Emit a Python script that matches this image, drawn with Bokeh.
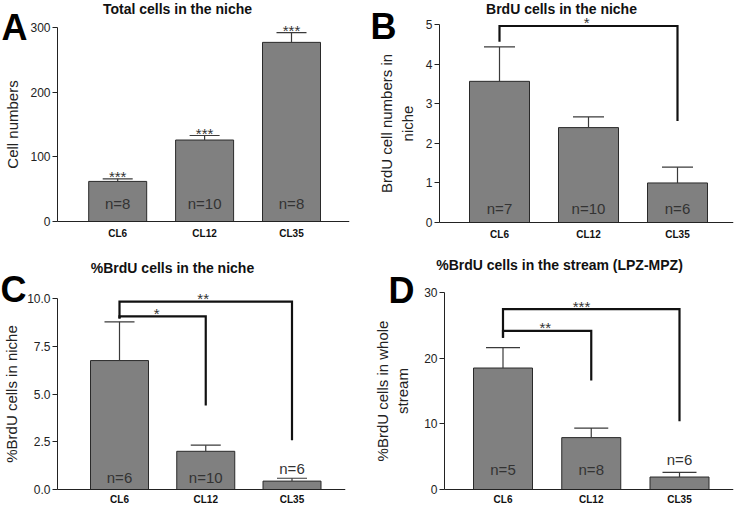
from bokeh.plotting import figure
from bokeh.models import Range1d, FixedTicker, Label, NumeralTickFormatter
from bokeh.layouts import column, row
from bokeh.embed import file_html
from bokeh.resources import INLINE
from bokeh.core.properties import value

FONT = "Liberation Sans"

# ---------------- data ----------------
categories = ["CL6", "CL12", "CL35"]

a_title = "Total cells in the niche"
a_ylabel = "Cell numbers"
a_ticks = [0, 100, 200, 300]
a_mean = [62, 126, 277]
a_sem = [4, 7, 15]
a_n = [8, 10, 8]
a_bar_stars = ["***", "***", "***"]
a_brackets = []

b_title = "BrdU cells in the niche"
b_ylabel = "BrdU cell numbers in\nniche"
b_ticks = [0, 1, 2, 3, 4, 5]
b_mean = [3.57, 2.40, 1.00]
b_sem = [0.87, 0.27, 0.40]
b_n = [7, 10, 6]
b_bar_stars = []
# (from, to, bracket height, left leg end, right leg end, stars, stars x)
b_brackets = [(0, 2, 4.97, 4.57, 2.57, "*", 1.98)]

c_title = "%BrdU cells in the niche"
c_ylabel = "%BrdU cells in niche"
c_ticks = [0, 2.5, 5, 7.5, 10]
c_mean = [6.75, 2.00, 0.44]
c_sem = [2.03, 0.32, 0.15]
c_n = [6, 10, 6]
c_bar_stars = []
c_brackets = [(0, 2, 9.84, 8.95, 2.58, "**", 1.97),
              (0, 1, 9.06, 8.95, 4.40, "*", 1.43)]

d_title = "%BrdU cells in the stream (LPZ-MPZ)"
d_ylabel = "%BrdU cells in whole\nstream"
d_ticks = [0, 10, 20, 30]
d_mean = [18.5, 7.9, 1.9]
d_sem = [3.1, 1.45, 0.7]
d_n = [5, 8, 6]
d_bar_stars = []
d_brackets = [(0, 2, 27.46, 23.1, 10.4, "***", 1.89),
              (0, 1, 24.17, 23.1, 16.6, "**", 1.48)]

# ---------------- layout / style (pixel geometry inside each panel) ----------------
# zero_px: panel y pixel of value 0; top_px: panel y pixel of the top tick
LAY_A = dict(w=367, h=248, zero_px=221, axis_px=57, right_px=349, c1_px=117.2, step_px=86.9,
             top_px=27, bar_px=58, cap_px=15, title_xy=(177, 8), letter_xy=(1, 27),
             n_off=-18, n_above=[False, False, False], n_above_off=-12,
             ylab_standoff=6, xlab_standoff=6, fmt="0")
LAY_B = dict(w=367, h=248, zero_px=222, axis_px=72, right_px=366, c1_px=132, step_px=89,
             top_px=24.3, bar_px=60, cap_px=15.5, title_xy=(194, 8), letter_xy=(3, 26),
             n_off=-14, n_above=[False, False, False], n_above_off=-12,
             ylab_standoff=7, xlab_standoff=6, fmt="0")
LAY_C = dict(w=367, h=258, zero_px=241, axis_px=57, right_px=345, c1_px=119, step_px=86.25,
             top_px=50, bar_px=58, cap_px=15, title_xy=(172, 19), letter_xy=(0, 41),
             n_off=-12, n_above=[False, False, True], n_above_off=-10,
             ylab_standoff=4, xlab_standoff=4, fmt="0.0")
LAY_D = dict(w=367, h=258, zero_px=241, axis_px=77, right_px=366, c1_px=135.5, step_px=88.25,
             top_px=44, bar_px=59, cap_px=17, title_xy=(192, 16), letter_xy=(21, 41.5),
             n_off=-20, n_above=[False, False, True], n_above_off=-13,
             ylab_standoff=10, xlab_standoff=4, fmt="0")

BAR_FILL = "#808080"
BAR_LINE = "#2a2a2a"
ERR_COLOR = "#3a3a3a"
TEXT_DARK = "#333333"
AXIS_COLOR = "#222222"


def make_panel(title, letter, ylabel, ticks, mean, sem, n, bar_stars, brackets, L):
    xs = list(range(1, len(categories) + 1))
    upper = [m + s for m, s in zip(mean, sem)]

    step = L["step_px"]
    x_start = 1 - L["c1_px"] / step
    x_end = 1 + (L["right_px"] - L["c1_px"]) / step
    x_axis = 1 - (L["c1_px"] - L["axis_px"]) / step
    ppu = (L["zero_px"] - L["top_px"]) / ticks[-1]          # pixels per y unit
    y_start = -(L["h"] - L["zero_px"]) / ppu
    y_end = L["zero_px"] / ppu
    bw = L["bar_px"] / step
    cap = L["cap_px"] / step

    p = figure(width=L["w"], height=L["h"], output_backend="svg", toolbar_location=None,
               x_range=Range1d(x_start, x_end), y_range=Range1d(y_start, y_end),
               min_border_left=0, min_border_right=L["w"] - L["right_px"],
               min_border_bottom=0, min_border_top=0,
               background_fill_color="white", border_fill_color="white")
    p.outline_line_color = None
    p.grid.visible = False

    # bars
    p.vbar(x=xs, top=mean, bottom=0, width=bw, fill_color=BAR_FILL,
           line_color=BAR_LINE, line_width=1)
    # upper error bars
    p.segment(x0=xs, y0=mean, x1=xs, y1=upper, line_color=ERR_COLOR, line_width=1.2)
    p.segment(x0=[x - cap for x in xs], y0=upper, x1=[x + cap for x in xs], y1=upper,
              line_color=ERR_COLOR, line_width=1.2)

    # n labels
    ny = [u if ab else 0 for u, ab in zip(upper, L["n_above"])]
    noff = [L["n_above_off"] if ab else L["n_off"] for ab in L["n_above"]]
    p.text(x=xs, y=ny, text=[f"n={v}" for v in n], y_offset=noff,
           text_font=value(FONT), text_font_size="15px", text_color=TEXT_DARK,
           text_align="center", text_baseline="middle")

    # stars above bars
    if bar_stars:
        p.text(x=xs, y=upper, text=bar_stars, y_offset=-2,
               text_font=value(FONT), text_font_size="15px", text_color=TEXT_DARK,
               text_align="center", text_baseline="alphabetic")

    # significance brackets
    for (i, j, h, lb, rb, star, sx) in brackets:
        p.multi_line(xs=[[xs[i], xs[i], xs[j], xs[j]]], ys=[[lb, h, h, rb]],
                     line_color="#111111", line_width=2.2, line_join="miter")
        p.text(x=[sx], y=[h], text=[star], y_offset=-3,
               text_font=value(FONT), text_font_size="15px", text_color=TEXT_DARK,
               text_align="center", text_baseline="alphabetic")

    # y axis, drawn at the position of the original plot's axis
    ya = p.yaxis[0]
    ya.fixed_location = x_axis
    ya.ticker = FixedTicker(ticks=ticks)
    ya.bounds = (ticks[0], ticks[-1])
    ya.formatter = NumeralTickFormatter(format=L["fmt"])
    ya.axis_label = ylabel
    ya.axis_label_text_font = FONT
    ya.axis_label_text_font_size = "15px"
    ya.axis_label_text_font_style = "normal"
    ya.axis_label_text_color = AXIS_COLOR
    ya.axis_label_standoff = L["ylab_standoff"]
    ya.major_label_text_font = FONT
    ya.major_label_text_font_size = "12px"
    ya.major_label_text_color = AXIS_COLOR
    ya.major_label_standoff = 2
    ya.major_tick_out = 5
    ya.major_tick_in = 0
    ya.minor_tick_line_color = None
    ya.axis_line_color = AXIS_COLOR
    ya.major_tick_line_color = AXIS_COLOR

    # x axis, drawn at value 0
    xa = p.xaxis[0]
    xa.fixed_location = 0
    xa.bounds = (x_axis, x_end)
    xa.ticker = FixedTicker(ticks=xs)
    xa.major_label_overrides = {x: c for x, c in zip(xs, categories)}
    xa.major_label_text_font = FONT
    xa.major_label_text_font_size = "10px"
    xa.major_label_text_font_style = "bold"
    xa.major_label_text_color = "#111111"
    xa.major_label_standoff = L["xlab_standoff"]
    xa.major_tick_out = 0
    xa.major_tick_in = 0
    xa.major_tick_line_color = None
    xa.minor_tick_line_color = None
    xa.axis_line_color = AXIS_COLOR

    # title and panel letter (screen units measured from the frame's bottom-left)
    tx, ty = L["title_xy"]
    lx, ly = L["letter_xy"]
    p.add_layout(Label(x=tx, y=L["h"] - ty, x_units="screen", y_units="screen", text=title,
                       text_font=FONT, text_font_size="14px", text_font_style="bold",
                       text_color="#111111", text_align="center", text_baseline="middle"))
    p.add_layout(Label(x=lx, y=L["h"] - ly, x_units="screen", y_units="screen", text=letter,
                       text_font=FONT, text_font_size="36px", text_font_style="bold",
                       text_color="#000000", text_align="left", text_baseline="alphabetic"))
    return p


pa = make_panel(a_title, "A", a_ylabel, a_ticks, a_mean, a_sem, a_n, a_bar_stars, a_brackets, LAY_A)
pb = make_panel(b_title, "B", b_ylabel, b_ticks, b_mean, b_sem, b_n, b_bar_stars, b_brackets, LAY_B)
pc = make_panel(c_title, "C", c_ylabel, c_ticks, c_mean, c_sem, c_n, c_bar_stars, c_brackets, LAY_C)
pd = make_panel(d_title, "D", d_ylabel, d_ticks, d_mean, d_sem, d_n, d_bar_stars, d_brackets, LAY_D)

layout = column(row(pa, pb), row(pc, pd))
open("out.html", "w").write(file_html(layout, INLINE))
